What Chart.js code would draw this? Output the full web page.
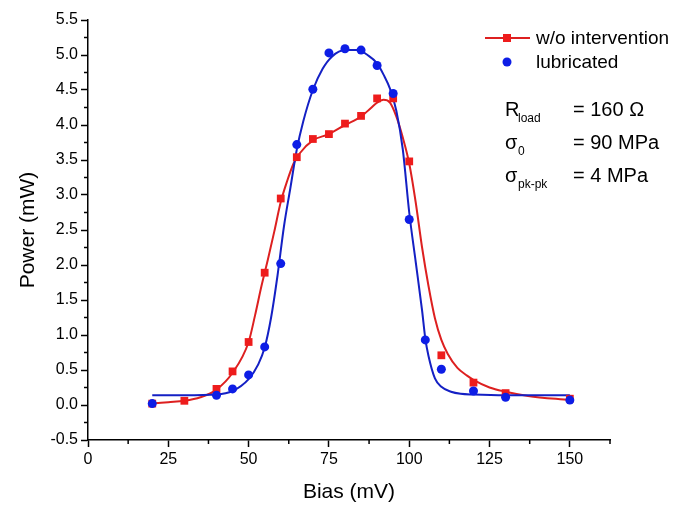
<!DOCTYPE html>
<html>
<head>
<meta charset="utf-8">
<script src="https://cdn.jsdelivr.net/npm/chart.js@4"></script>
<style>
  html, body { margin: 0; padding: 0; background: #fff; }
  #wrap { width: 675px; height: 508px; }
</style>
</head>
<body>
<div id="wrap"><canvas id="powerChart"></canvas></div>
<script>
// measured points
const biasRed = [20, 30, 40, 45, 50, 55, 60, 65, 70, 75, 80, 85, 90, 95, 100, 110, 120, 130, 150];
const powerRed = [0.02, 0.06, 0.23, 0.48, 0.90, 1.89, 2.95, 3.54, 3.80, 3.87, 4.02, 4.13, 4.38, 4.38, 3.48, 0.71, 0.32, 0.17, 0.09];
const biasBlue = [20, 40, 45, 50, 55, 60, 65, 70, 75, 80, 85, 90, 95, 100, 105, 110, 120, 130, 150];
const powerBlue = [0.02, 0.14, 0.23, 0.43, 0.83, 2.02, 3.72, 4.51, 5.03, 5.09, 5.07, 4.85, 4.45, 2.65, 0.93, 0.51, 0.20, 0.11, 0.07];

// fit curves
const fitBiasRed = [20, 25, 30, 35, 40, 45, 50, 52, 54, 56, 58, 60, 62, 64, 66, 70, 75, 80, 85, 88, 90, 92, 94, 96, 98, 100, 102, 104, 106, 108, 110, 112, 115, 118, 120, 125, 130, 137, 150];
const fitPowerRed = [0.02, 0.04, 0.06, 0.11, 0.22, 0.46, 0.90, 1.28, 1.70, 2.08, 2.48, 2.90, 3.20, 3.45, 3.60, 3.78, 3.87, 4.00, 4.12, 4.24, 4.32, 4.36, 4.32, 4.12, 3.82, 3.45, 2.90, 2.25, 1.70, 1.24, 0.93, 0.73, 0.53, 0.42, 0.36, 0.25, 0.19, 0.13, 0.07];
const fitBiasBlue = [20, 30, 40, 45, 50, 53, 55, 57, 59, 61, 63, 65, 67, 70, 73, 76, 80, 84, 87, 90, 92, 94, 96, 98, 100, 102, 104, 105, 106, 108, 110, 113, 116, 120, 130, 150];
const fitPowerBlue = [0.14, 0.14, 0.15, 0.20, 0.37, 0.58, 0.82, 1.25, 1.85, 2.55, 3.10, 3.65, 4.05, 4.50, 4.80, 4.98, 5.07, 5.07, 5.00, 4.88, 4.72, 4.52, 4.20, 3.65, 2.75, 2.05, 1.35, 0.95, 0.70, 0.38, 0.26, 0.19, 0.16, 0.15, 0.14, 0.14];

const xTicks = [0, 25, 50, 75, 100, 125, 150];
const seriesNames = ['w/o intervention', 'lubricated'];

const RED = '#ee1c1c', RED_LINE = '#dd2020';
const BLUE = '#0d1de6', BLUE_LINE = '#1420c4';
const FONT = '"Liberation Sans", Arial, sans-serif';

const toXY = (xs, ys) => xs.map((x, i) => ({ x: x, y: ys[i] }));

// minor ticks + legend + parameter text
const extras = {
  id: 'extras',
  afterDraw(chart) {
    const c = chart.ctx;
    const xs = chart.scales.x, ys = chart.scales.y;
    c.save();
    c.strokeStyle = '#000';
    c.lineWidth = 1.5;
    for (let v = 12.5; v <= xs.max + 0.01; v += 25) {
      const px = xs.getPixelForValue(v);
      c.beginPath(); c.moveTo(px, xs.top); c.lineTo(px, xs.top + 4); c.stroke();
    }
    for (let v = -0.25; v < ys.max; v += 0.5) {
      const py = ys.getPixelForValue(v);
      c.beginPath(); c.moveTo(ys.right, py); c.lineTo(ys.right - 4, py); c.stroke();
    }

    // legend
    c.font = '19px ' + FONT;
    c.textBaseline = 'middle';
    c.strokeStyle = RED_LINE;
    c.lineWidth = 2;
    c.beginPath(); c.moveTo(485, 38); c.lineTo(530, 38); c.stroke();
    c.fillStyle = RED;
    c.fillRect(503, 34, 8, 8);
    c.fillStyle = BLUE;
    c.beginPath(); c.arc(507, 62, 4.5, 0, Math.PI * 2); c.fill();
    c.fillStyle = '#000';
    c.fillText(seriesNames[0], 536, 39);
    c.fillText(seriesNames[1], 536, 63);

    // parameters
    const rows = [
      ['R', 'load', '= 160 \u03A9', 110],
      ['\u03C3', '0', '= 90 MPa', 143],
      ['\u03C3', 'pk-pk', '= 4 MPa', 176]
    ];
    rows.forEach(r => {
      c.font = '20px ' + FONT;
      c.fillText(r[0], 505, r[3]);
      c.fillText(r[2], 573, r[3]);
      c.font = '12px ' + FONT;
      c.fillText(r[1], 518, r[3] + 9);
    });
    c.restore();
  }
};

const ctx = document.getElementById('powerChart').getContext('2d');
const powerChart = new Chart(ctx, {
  type: 'scatter',
  data: {
    datasets: [
      {
        label: seriesNames[0] + ' fit',
        data: toXY(fitBiasRed, fitPowerRed),
        showLine: true,
        borderColor: RED_LINE,
        borderWidth: 2,
        pointRadius: 0,
        cubicInterpolationMode: 'monotone',
        order: 4
      },
      {
        label: seriesNames[1] + ' fit',
        data: toXY(fitBiasBlue, fitPowerBlue),
        showLine: true,
        borderColor: BLUE_LINE,
        borderWidth: 2,
        pointRadius: 0,
        cubicInterpolationMode: 'monotone',
        order: 3
      },
      {
        label: seriesNames[0],
        data: toXY(biasRed, powerRed),
        pointStyle: 'rect',
        pointRadius: 5.5,
        backgroundColor: RED,
        borderColor: RED,
        borderWidth: 0,
        order: 2
      },
      {
        label: seriesNames[1],
        data: toXY(biasBlue, powerBlue),
        pointStyle: 'circle',
        pointRadius: 4.5,
        backgroundColor: BLUE,
        borderColor: BLUE,
        borderWidth: 0,
        order: 1
      }
    ]
  },
  options: {
    responsive: true,
    maintainAspectRatio: false,
    animation: false,
    layout: { padding: { top: 20, right: 65, left: 0, bottom: 0 } },
    plugins: {
      legend: { display: false },
      tooltip: { enabled: false }
    },
    scales: {
      x: {
        type: 'linear',
        min: 0,
        max: 162.5,
        afterBuildTicks: s => { s.ticks = xTicks.map(v => ({ value: v })); },
        afterFit: s => { s.height = 68; },
        border: { color: '#000', width: 1.5 },
        grid: { display: true, drawOnChartArea: false, color: '#000', tickLength: 7, tickWidth: 1.5 },
        ticks: { color: '#000', padding: 3, font: { family: FONT, size: 16 }, maxRotation: 0 },
        title: { display: true, text: 'Bias (mV)', color: '#000', font: { family: FONT, size: 21 }, padding: { top: 0, bottom: 3 } }
      },
      y: {
        min: -0.5,
        max: 5.5,
        ticks: { stepSize: 0.5, color: '#000', padding: 3, font: { family: FONT, size: 16 }, callback: v => v.toFixed(1) },
        afterFit: s => { s.width = 88; },
        border: { color: '#000', width: 1.5 },
        grid: { display: true, drawOnChartArea: false, color: '#000', tickLength: 7, tickWidth: 1.5 },
        title: { display: true, text: 'Power (mW)', color: '#000', font: { family: FONT, size: 21 }, padding: { top: 16, bottom: 0 } }
      }
    }
  },
  plugins: [extras]
});
</script>
</body>
</html>
